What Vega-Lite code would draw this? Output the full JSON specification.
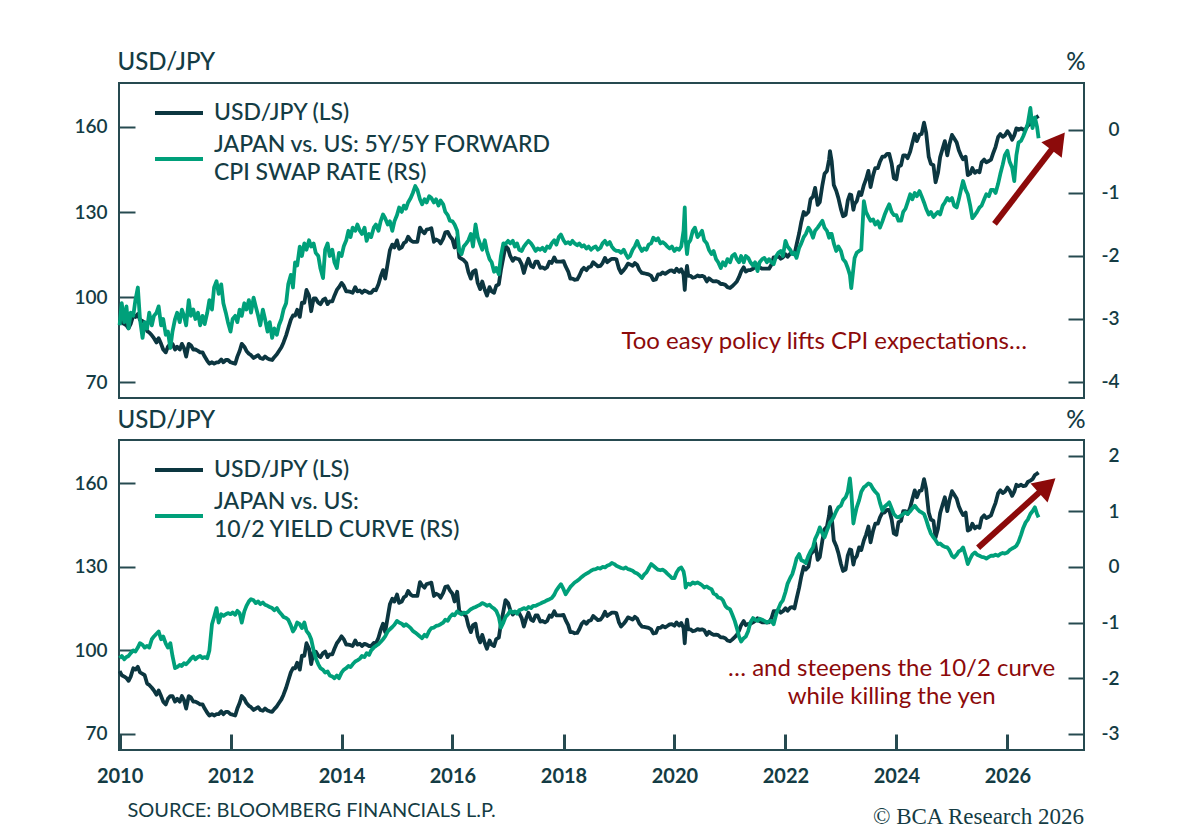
{
  "$schema": "https://vega.github.io/schema/vega-lite/v6.json",
  "background": "white",
  "padding": {"left": 72, "top": 49, "right": 10, "bottom": 0},
  "spacing": 42,
  "bounds": "flush",
  "title": {"text": "© BCA Research 2026", "orient": "bottom", "anchor": "end", "font": "Liberation Serif", "fontSize": 23, "fontWeight": "normal", "color": "#143c44", "offset": -15, "dx": -36},
  "datasets": {
    "ts": [
      {"d":"2010-01-01","u":92.5,"c":-3.1,"y":-1.64},{"d":"2010-01-15","u":91.0,"c":-2.75,"y":-1.6},{"d":"2010-02-01","u":90.5,"c":-3.05,"y":-1.66},{"d":"2010-02-15","u":90.0,"c":-2.8,"y":-1.62},
      {"d":"2010-03-01","u":89.0,"c":-3.15,"y":-1.6},{"d":"2010-03-15","u":90.5,"c":-2.9,"y":-1.55},{"d":"2010-04-01","u":93.5,"c":-2.95,"y":-1.5},{"d":"2010-04-15","u":93.0,"c":-2.7,"y":-1.52},
      {"d":"2010-05-01","u":94.0,"c":-2.5,"y":-1.45},{"d":"2010-05-15","u":92.0,"c":-3.0,"y":-1.37},{"d":"2010-06-01","u":91.5,"c":-3.3,"y":-1.4},{"d":"2010-06-15","u":91.0,"c":-3.05,"y":-1.45},
      {"d":"2010-07-01","u":88.0,"c":-3.15,"y":-1.42},{"d":"2010-07-15","u":87.5,"c":-2.9,"y":-1.45},{"d":"2010-08-01","u":86.5,"c":-3.1,"y":-1.3},{"d":"2010-08-15","u":85.5,"c":-2.95,"y":-1.25},
      {"d":"2010-09-01","u":84.0,"c":-2.9,"y":-1.2},{"d":"2010-09-15","u":85.5,"c":-2.8,"y":-1.16},{"d":"2010-10-01","u":83.5,"c":-3.1,"y":-1.3},{"d":"2010-10-15","u":81.5,"c":-3.0,"y":-1.25},
      {"d":"2010-11-01","u":80.5,"c":-3.25,"y":-1.38},{"d":"2010-11-15","u":82.5,"c":-3.2,"y":-1.45},{"d":"2010-12-01","u":83.5,"c":-3.46,"y":-1.37},{"d":"2010-12-15","u":83.5,"c":-3.2,"y":-1.6},
      {"d":"2011-01-01","u":81.5,"c":-3.0,"y":-1.82},{"d":"2011-01-15","u":82.5,"c":-2.9,"y":-1.8},{"d":"2011-02-01","u":81.5,"c":-3.05,"y":-1.76},{"d":"2011-02-15","u":83.5,"c":-2.85,"y":-1.78},
      {"d":"2011-03-01","u":82.0,"c":-2.95,"y":-1.73},{"d":"2011-03-15","u":79.0,"c":-3.1,"y":-1.75},{"d":"2011-04-01","u":83.5,"c":-2.7,"y":-1.7},{"d":"2011-04-15","u":83.0,"c":-2.95,"y":-1.65},
      {"d":"2011-05-01","u":81.5,"c":-2.85,"y":-1.61},{"d":"2011-05-15","u":81.5,"c":-3.0,"y":-1.66},{"d":"2011-06-01","u":81.0,"c":-2.9,"y":-1.62},{"d":"2011-06-15","u":80.5,"c":-3.1,"y":-1.6},
      {"d":"2011-07-01","u":80.5,"c":-2.95,"y":-1.64},{"d":"2011-07-15","u":79.0,"c":-3.08,"y":-1.62},{"d":"2011-08-01","u":77.5,"c":-2.9,"y":-1.64},{"d":"2011-08-15","u":76.5,"c":-2.7,"y":-1.5},
      {"d":"2011-09-01","u":77.0,"c":-2.85,"y":-1.03},{"d":"2011-09-15","u":76.5,"c":-2.5,"y":-0.9},{"d":"2011-10-01","u":77.0,"c":-2.4,"y":-0.74},{"d":"2011-10-15","u":77.0,"c":-2.6,"y":-1.0},
      {"d":"2011-11-01","u":78.0,"c":-2.45,"y":-0.85},{"d":"2011-11-15","u":77.0,"c":-2.75,"y":-0.88},{"d":"2011-12-01","u":77.8,"c":-2.9,"y":-0.85},{"d":"2011-12-15","u":77.8,"c":-3.05,"y":-0.83},
      {"d":"2012-01-01","u":77.0,"c":-3.2,"y":-0.85},{"d":"2012-01-15","u":76.8,"c":-3.0,"y":-0.82},{"d":"2012-02-01","u":76.5,"c":-2.95,"y":-0.86},{"d":"2012-02-15","u":79.0,"c":-3.05,"y":-0.79},
      {"d":"2012-03-01","u":81.0,"c":-2.85,"y":-0.83},{"d":"2012-03-15","u":83.5,"c":-2.95,"y":-1.0},{"d":"2012-04-01","u":82.5,"c":-2.75,"y":-0.8},{"d":"2012-04-15","u":81.0,"c":-2.85,"y":-0.7},
      {"d":"2012-05-01","u":80.0,"c":-2.7,"y":-0.62},{"d":"2012-05-15","u":79.5,"c":-2.9,"y":-0.58},{"d":"2012-06-01","u":78.5,"c":-2.66,"y":-0.6},{"d":"2012-06-15","u":79.0,"c":-2.8,"y":-0.65},
      {"d":"2012-07-01","u":79.5,"c":-2.95,"y":-0.62},{"d":"2012-07-15","u":78.5,"c":-3.1,"y":-0.67},{"d":"2012-08-01","u":78.2,"c":-2.85,"y":-0.64},{"d":"2012-08-15","u":79.0,"c":-3.0,"y":-0.68},
      {"d":"2012-09-01","u":78.3,"c":-3.2,"y":-0.7},{"d":"2012-09-15","u":78.0,"c":-3.05,"y":-0.72},{"d":"2012-10-01","u":77.8,"c":-3.3,"y":-0.74},{"d":"2012-10-15","u":78.8,"c":-3.15,"y":-0.78},
      {"d":"2012-11-01","u":79.8,"c":-3.25,"y":-0.74},{"d":"2012-11-15","u":81.0,"c":-3.1,"y":-0.8},{"d":"2012-12-01","u":82.3,"c":-3.0,"y":-0.85},{"d":"2012-12-15","u":84.0,"c":-2.85,"y":-0.9},
      {"d":"2013-01-01","u":86.5,"c":-2.75,"y":-0.92},{"d":"2013-01-15","u":89.0,"c":-2.45,"y":-0.95},{"d":"2013-02-01","u":92.0,"c":-2.3,"y":-1.05},{"d":"2013-02-15","u":93.5,"c":-2.5,"y":-1.16},
      {"d":"2013-03-01","u":93.5,"c":-2.1,"y":-1.1},{"d":"2013-03-15","u":95.5,"c":-2.15,"y":-1.0},{"d":"2013-04-01","u":93.0,"c":-1.85,"y":-1.03},{"d":"2013-04-15","u":98.0,"c":-2.0,"y":-1.1},
      {"d":"2013-05-01","u":98.0,"c":-1.8,"y":-1.0},{"d":"2013-05-15","u":102.5,"c":-1.9,"y":-1.15},{"d":"2013-06-01","u":100.5,"c":-1.75,"y":-1.21},{"d":"2013-06-15","u":95.0,"c":-1.85,"y":-1.3},
      {"d":"2013-07-01","u":99.5,"c":-1.8,"y":-1.5},{"d":"2013-07-15","u":99.5,"c":-1.95,"y":-1.64},{"d":"2013-08-01","u":98.0,"c":-2.0,"y":-1.75},{"d":"2013-08-15","u":97.5,"c":-2.2,"y":-1.82},
      {"d":"2013-09-01","u":99.0,"c":-2.35,"y":-1.85},{"d":"2013-09-15","u":99.5,"c":-1.9,"y":-1.9},{"d":"2013-10-01","u":97.5,"c":-1.8,"y":-1.88},{"d":"2013-10-15","u":98.5,"c":-2.0,"y":-1.95},
      {"d":"2013-11-01","u":98.5,"c":-1.9,"y":-1.97},{"d":"2013-11-15","u":100.5,"c":-2.1,"y":-2.0},{"d":"2013-12-01","u":102.5,"c":-2.19,"y":-1.95},{"d":"2013-12-15","u":103.5,"c":-1.95,"y":-2.0},
      {"d":"2014-01-01","u":105.0,"c":-2.0,"y":-1.9},{"d":"2014-01-15","u":104.0,"c":-1.85,"y":-1.85},{"d":"2014-02-01","u":102.0,"c":-1.75,"y":-1.82},{"d":"2014-02-15","u":102.0,"c":-1.6,"y":-1.78},
      {"d":"2014-03-01","u":101.8,"c":-1.7,"y":-1.8},{"d":"2014-03-15","u":101.5,"c":-1.55,"y":-1.75},{"d":"2014-04-01","u":103.5,"c":-1.6,"y":-1.7},{"d":"2014-04-15","u":102.0,"c":-1.5,"y":-1.68},
      {"d":"2014-05-01","u":102.3,"c":-1.6,"y":-1.65},{"d":"2014-05-15","u":101.5,"c":-1.65,"y":-1.6},{"d":"2014-06-01","u":102.3,"c":-1.55,"y":-1.62},{"d":"2014-06-15","u":102.0,"c":-1.76,"y":-1.55},
      {"d":"2014-07-01","u":101.5,"c":-1.65,"y":-1.58},{"d":"2014-07-15","u":101.5,"c":-1.7,"y":-1.5},{"d":"2014-08-01","u":102.6,"c":-1.55,"y":-1.45},{"d":"2014-08-15","u":102.4,"c":-1.5,"y":-1.42},
      {"d":"2014-09-01","u":104.5,"c":-1.6,"y":-1.39},{"d":"2014-09-15","u":107.2,"c":-1.45,"y":-1.35},{"d":"2014-10-01","u":109.5,"c":-1.34,"y":-1.3},{"d":"2014-10-15","u":106.5,"c":-1.4,"y":-1.25},
      {"d":"2014-11-01","u":112.0,"c":-1.5,"y":-1.16},{"d":"2014-11-15","u":116.5,"c":-1.45,"y":-1.12},{"d":"2014-12-01","u":118.5,"c":-1.6,"y":-1.08},{"d":"2014-12-15","u":117.5,"c":-1.45,"y":-1.04},
      {"d":"2015-01-01","u":120.0,"c":-1.35,"y":-0.97},{"d":"2015-01-15","u":117.0,"c":-1.23,"y":-1.0},{"d":"2015-02-01","u":117.5,"c":-1.3,"y":-1.02},{"d":"2015-02-15","u":119.0,"c":-1.2,"y":-1.06},
      {"d":"2015-03-01","u":119.5,"c":-1.25,"y":-1.03},{"d":"2015-03-15","u":121.3,"c":-1.15,"y":-1.06},{"d":"2015-04-01","u":120.0,"c":-1.08,"y":-1.1},{"d":"2015-04-15","u":119.5,"c":-1.0,"y":-1.15},
      {"d":"2015-05-01","u":119.5,"c":-0.89,"y":-1.18},{"d":"2015-05-15","u":119.5,"c":-0.95,"y":-1.21},{"d":"2015-06-01","u":124.5,"c":-1.1,"y":-1.25},{"d":"2015-06-15","u":123.3,"c":-1.18,"y":-1.28},
      {"d":"2015-07-01","u":122.5,"c":-1.1,"y":-1.22},{"d":"2015-07-15","u":123.8,"c":-1.15,"y":-1.25},{"d":"2015-08-01","u":124.0,"c":-1.05,"y":-1.15},{"d":"2015-08-15","u":124.3,"c":-1.08,"y":-1.1},
      {"d":"2015-09-01","u":119.5,"c":-1.15,"y":-1.09},{"d":"2015-09-15","u":120.3,"c":-1.1,"y":-1.06},{"d":"2015-10-01","u":119.9,"c":-1.2,"y":-1.05},{"d":"2015-10-15","u":118.9,"c":-1.12,"y":-1.03},
      {"d":"2015-11-01","u":120.6,"c":-1.18,"y":-1.0},{"d":"2015-11-15","u":122.8,"c":-1.3,"y":-0.95},{"d":"2015-12-01","u":123.0,"c":-1.35,"y":-0.97},{"d":"2015-12-15","u":121.5,"c":-1.44,"y":-0.9},
      {"d":"2016-01-01","u":120.3,"c":-1.45,"y":-0.85},{"d":"2016-01-15","u":117.5,"c":-1.5,"y":-0.87},{"d":"2016-02-01","u":121.0,"c":-1.6,"y":-0.8},{"d":"2016-02-15","u":114.0,"c":-1.92,"y":-0.83},
      {"d":"2016-03-01","u":113.5,"c":-1.97,"y":-0.85},{"d":"2016-03-15","u":113.0,"c":-1.85,"y":-0.82},{"d":"2016-04-01","u":112.0,"c":-1.8,"y":-0.83},{"d":"2016-04-15","u":108.8,"c":-1.75,"y":-0.8},
      {"d":"2016-05-01","u":106.5,"c":-1.65,"y":-0.76},{"d":"2016-05-15","u":109.0,"c":-1.85,"y":-0.74},{"d":"2016-06-01","u":109.5,"c":-1.5,"y":-0.72},{"d":"2016-06-15","u":105.0,"c":-1.7,"y":-0.7},
      {"d":"2016-07-01","u":102.8,"c":-1.81,"y":-0.68},{"d":"2016-07-15","u":105.5,"c":-1.9,"y":-0.65},{"d":"2016-08-01","u":102.5,"c":-1.75,"y":-0.67},{"d":"2016-08-15","u":100.5,"c":-1.92,"y":-0.7},
      {"d":"2016-09-01","u":103.5,"c":-2.05,"y":-0.68},{"d":"2016-09-15","u":102.0,"c":-2.1,"y":-0.72},{"d":"2016-10-01","u":101.5,"c":-2.25,"y":-0.75},{"d":"2016-10-15","u":104.0,"c":-2.19,"y":-0.79},
      {"d":"2016-11-01","u":104.5,"c":-2.29,"y":-0.9},{"d":"2016-11-15","u":109.5,"c":-2.0,"y":-1.09},{"d":"2016-12-01","u":114.0,"c":-1.8,"y":-1.0},{"d":"2016-12-15","u":118.0,"c":-1.81,"y":-0.9},
      {"d":"2017-01-01","u":117.0,"c":-1.76,"y":-0.85},{"d":"2017-01-15","u":114.5,"c":-1.8,"y":-0.79},{"d":"2017-02-01","u":112.8,"c":-1.76,"y":-0.82},{"d":"2017-02-15","u":113.8,"c":-1.85,"y":-0.8},
      {"d":"2017-03-01","u":113.5,"c":-1.8,"y":-0.84},{"d":"2017-03-15","u":113.3,"c":-1.9,"y":-0.78},{"d":"2017-04-01","u":111.5,"c":-1.92,"y":-0.76},{"d":"2017-04-15","u":108.5,"c":-1.85,"y":-0.74},
      {"d":"2017-05-01","u":111.5,"c":-1.8,"y":-0.76},{"d":"2017-05-15","u":113.5,"c":-1.76,"y":-0.72},{"d":"2017-06-01","u":111.0,"c":-1.8,"y":-0.74},{"d":"2017-06-15","u":110.5,"c":-1.85,"y":-0.7},
      {"d":"2017-07-01","u":112.5,"c":-1.92,"y":-0.7},{"d":"2017-07-15","u":112.5,"c":-1.88,"y":-0.68},{"d":"2017-08-01","u":110.3,"c":-1.9,"y":-0.66},{"d":"2017-08-15","u":110.5,"c":-1.87,"y":-0.64},
      {"d":"2017-09-01","u":110.0,"c":-1.92,"y":-0.62},{"d":"2017-09-15","u":110.5,"c":-1.85,"y":-0.6},{"d":"2017-10-01","u":112.5,"c":-1.87,"y":-0.58},{"d":"2017-10-15","u":112.0,"c":-1.8,"y":-0.56},
      {"d":"2017-11-01","u":114.0,"c":-1.75,"y":-0.5},{"d":"2017-11-15","u":112.5,"c":-1.82,"y":-0.42},{"d":"2017-12-01","u":112.5,"c":-1.7,"y":-0.36},{"d":"2017-12-15","u":112.5,"c":-1.66,"y":-0.31},
      {"d":"2018-01-01","u":112.7,"c":-1.75,"y":-0.4},{"d":"2018-01-15","u":110.8,"c":-1.8,"y":-0.49},{"d":"2018-02-01","u":109.0,"c":-1.78,"y":-0.42},{"d":"2018-02-15","u":106.5,"c":-1.81,"y":-0.36},
      {"d":"2018-03-01","u":106.5,"c":-1.76,"y":-0.32},{"d":"2018-03-15","u":106.1,"c":-1.8,"y":-0.28},{"d":"2018-04-01","u":106.2,"c":-1.83,"y":-0.25},{"d":"2018-04-15","u":107.5,"c":-1.8,"y":-0.22},
      {"d":"2018-05-01","u":109.5,"c":-1.85,"y":-0.18},{"d":"2018-05-15","u":110.3,"c":-1.83,"y":-0.15},{"d":"2018-06-01","u":109.5,"c":-1.88,"y":-0.12},{"d":"2018-06-15","u":110.5,"c":-1.85,"y":-0.1},
      {"d":"2018-07-01","u":110.8,"c":-1.9,"y":-0.07},{"d":"2018-07-15","u":112.3,"c":-1.87,"y":-0.05},{"d":"2018-08-01","u":111.5,"c":-1.85,"y":-0.04},{"d":"2018-08-15","u":110.8,"c":-1.9,"y":-0.02},
      {"d":"2018-09-01","u":111.0,"c":-1.87,"y":-0.03},{"d":"2018-09-15","u":112.0,"c":-1.8,"y":0.0},{"d":"2018-10-01","u":113.8,"c":-1.76,"y":-0.01},{"d":"2018-10-15","u":112.3,"c":-1.82,"y":0.02},
      {"d":"2018-11-01","u":113.0,"c":-1.78,"y":0.04},{"d":"2018-11-15","u":113.5,"c":-1.85,"y":0.07},{"d":"2018-12-01","u":113.5,"c":-1.9,"y":0.05},{"d":"2018-12-15","u":113.3,"c":-1.92,"y":0.02},
      {"d":"2019-01-01","u":110.0,"c":-1.92,"y":0.0},{"d":"2019-01-15","u":108.5,"c":-1.95,"y":-0.02},{"d":"2019-02-01","u":109.5,"c":-1.9,"y":-0.03},{"d":"2019-02-15","u":110.5,"c":-1.97,"y":-0.01},
      {"d":"2019-03-01","u":111.8,"c":-2.03,"y":-0.04},{"d":"2019-03-15","u":111.5,"c":-2.0,"y":-0.05},{"d":"2019-04-01","u":111.0,"c":-1.9,"y":-0.07},{"d":"2019-04-15","u":112.0,"c":-1.85,"y":-0.1},
      {"d":"2019-05-01","u":111.3,"c":-1.76,"y":-0.12},{"d":"2019-05-15","u":109.6,"c":-1.85,"y":-0.15},{"d":"2019-06-01","u":108.5,"c":-1.92,"y":-0.2},{"d":"2019-06-15","u":108.4,"c":-1.88,"y":-0.14},
      {"d":"2019-07-01","u":108.2,"c":-1.9,"y":-0.1},{"d":"2019-07-15","u":108.0,"c":-1.82,"y":-0.03},{"d":"2019-08-01","u":107.5,"c":-1.8,"y":0.05},{"d":"2019-08-15","u":106.0,"c":-1.71,"y":0.02},
      {"d":"2019-09-01","u":106.2,"c":-1.75,"y":-0.02},{"d":"2019-09-15","u":108.0,"c":-1.72,"y":-0.05},{"d":"2019-10-01","u":108.0,"c":-1.8,"y":-0.06},{"d":"2019-10-15","u":108.7,"c":-1.78,"y":-0.05},
      {"d":"2019-11-01","u":108.2,"c":-1.81,"y":-0.08},{"d":"2019-11-15","u":108.7,"c":-1.85,"y":-0.12},{"d":"2019-12-01","u":109.3,"c":-1.88,"y":-0.16},{"d":"2019-12-15","u":109.4,"c":-1.85,"y":-0.2},
      {"d":"2020-01-01","u":108.8,"c":-1.92,"y":-0.2},{"d":"2020-01-15","u":110.0,"c":-1.88,"y":-0.1},{"d":"2020-02-01","u":108.9,"c":-1.9,"y":-0.03},{"d":"2020-02-15","u":109.8,"c":-1.85,"y":-0.01},
      {"d":"2020-03-01","u":108.0,"c":-1.6,"y":-0.08},{"d":"2020-03-09","u":102.5,"c":-1.23,"y":-0.2},{"d":"2020-03-15","u":107.5,"c":-1.75,"y":-0.37},{"d":"2020-03-24","u":111.0,"c":-1.97,"y":-0.32},
      {"d":"2020-04-01","u":107.5,"c":-1.8,"y":-0.3},{"d":"2020-04-15","u":107.5,"c":-1.75,"y":-0.32},{"d":"2020-05-01","u":106.8,"c":-1.6,"y":-0.28},{"d":"2020-05-15","u":107.0,"c":-1.55,"y":-0.3},
      {"d":"2020-06-01","u":107.6,"c":-1.7,"y":-0.28},{"d":"2020-06-15","u":107.3,"c":-1.66,"y":-0.3},{"d":"2020-07-01","u":107.5,"c":-1.6,"y":-0.33},{"d":"2020-07-15","u":107.2,"c":-1.75,"y":-0.37},
      {"d":"2020-08-01","u":105.5,"c":-1.8,"y":-0.35},{"d":"2020-08-15","u":106.6,"c":-1.9,"y":-0.38},{"d":"2020-09-01","u":105.9,"c":-1.97,"y":-0.4},{"d":"2020-09-15","u":105.5,"c":-1.92,"y":-0.48},
      {"d":"2020-10-01","u":105.6,"c":-2.05,"y":-0.5},{"d":"2020-10-15","u":105.4,"c":-2.1,"y":-0.55},{"d":"2020-11-01","u":104.6,"c":-2.19,"y":-0.56},{"d":"2020-11-15","u":104.6,"c":-2.1,"y":-0.6},
      {"d":"2020-12-01","u":104.3,"c":-2.15,"y":-0.7},{"d":"2020-12-15","u":103.5,"c":-2.05,"y":-0.74},
      {"d":"2021-01-01","u":103.2,"c":-2.1,"y":-0.76},{"d":"2021-01-15","u":103.8,"c":-2.0,"y":-0.85},{"d":"2021-02-01","u":104.7,"c":-1.97,"y":-0.97},{"d":"2021-02-15","u":105.5,"c":-2.05,"y":-1.1},
      {"d":"2021-03-01","u":107.0,"c":-2.1,"y":-1.25},{"d":"2021-03-15","u":109.0,"c":-2.0,"y":-1.34},{"d":"2021-04-01","u":110.5,"c":-2.1,"y":-1.28},{"d":"2021-04-15","u":109.0,"c":-2.0,"y":-1.25},
      {"d":"2021-05-01","u":109.5,"c":-2.03,"y":-1.15},{"d":"2021-05-15","u":109.5,"c":-2.1,"y":-1.0},{"d":"2021-06-01","u":110.0,"c":-2.15,"y":-0.92},{"d":"2021-06-15","u":110.5,"c":-2.1,"y":-0.95},
      {"d":"2021-07-01","u":111.5,"c":-2.24,"y":-0.97},{"d":"2021-07-15","u":110.5,"c":-2.1,"y":-0.93},{"d":"2021-08-01","u":110.0,"c":-2.05,"y":-0.95},{"d":"2021-08-15","u":110.0,"c":-2.03,"y":-0.97},
      {"d":"2021-09-01","u":110.0,"c":-2.1,"y":-1.0},{"d":"2021-09-15","u":110.0,"c":-2.05,"y":-0.98},{"d":"2021-10-01","u":111.5,"c":-2.1,"y":-0.97},{"d":"2021-10-15","u":114.0,"c":-2.13,"y":-1.03},
      {"d":"2021-11-01","u":114.0,"c":-2.0,"y":-0.85},{"d":"2021-11-15","u":114.5,"c":-1.95,"y":-0.75},{"d":"2021-12-01","u":113.5,"c":-1.92,"y":-0.65},{"d":"2021-12-15","u":114.0,"c":-2.0,"y":-0.6},
      {"d":"2022-01-01","u":115.1,"c":-1.76,"y":-0.45},{"d":"2022-01-15","u":114.2,"c":-1.85,"y":-0.3},{"d":"2022-02-01","u":115.3,"c":-1.9,"y":-0.2},{"d":"2022-02-15","u":115.5,"c":-1.97,"y":-0.13},
      {"d":"2022-03-01","u":115.0,"c":-1.95,"y":0.0},{"d":"2022-03-15","u":118.5,"c":-2.03,"y":0.15},{"d":"2022-04-01","u":122.5,"c":-1.87,"y":0.23},{"d":"2022-04-15","u":126.5,"c":-1.8,"y":0.12},
      {"d":"2022-05-01","u":130.0,"c":-1.7,"y":0.1},{"d":"2022-05-15","u":129.0,"c":-1.65,"y":0.07},{"d":"2022-06-01","u":130.0,"c":-1.55,"y":0.2},{"d":"2022-06-15","u":134.5,"c":-1.6,"y":0.28},
      {"d":"2022-07-01","u":135.5,"c":-1.71,"y":0.35},{"d":"2022-07-15","u":138.5,"c":-1.6,"y":0.5},{"d":"2022-08-01","u":132.5,"c":-1.55,"y":0.6},{"d":"2022-08-15","u":133.5,"c":-1.5,"y":0.71},
      {"d":"2022-09-01","u":139.5,"c":-1.44,"y":0.6},{"d":"2022-09-15","u":143.5,"c":-1.55,"y":0.53},{"d":"2022-10-01","u":144.5,"c":-1.6,"y":0.65},{"d":"2022-10-15","u":148.5,"c":-1.71,"y":0.75},
      {"d":"2022-10-21","u":151.5,"c":-1.65,"y":0.8},{"d":"2022-11-01","u":148.0,"c":-1.65,"y":0.83},{"d":"2022-11-15","u":139.5,"c":-1.8,"y":0.9},{"d":"2022-12-01","u":137.5,"c":-1.92,"y":1.0},
      {"d":"2022-12-15","u":135.0,"c":-1.85,"y":1.07},
      {"d":"2023-01-01","u":131.0,"c":-1.92,"y":1.1},{"d":"2023-01-15","u":128.5,"c":-2.05,"y":1.2},{"d":"2023-02-01","u":129.0,"c":-2.1,"y":1.25},{"d":"2023-02-15","u":134.0,"c":-2.19,"y":1.35},
      {"d":"2023-03-01","u":136.2,"c":-2.3,"y":1.59},{"d":"2023-03-10","u":136.0,"c":-2.51,"y":1.35},{"d":"2023-03-24","u":130.8,"c":-2.2,"y":0.78},{"d":"2023-04-01","u":132.8,"c":-2.03,"y":0.9},
      {"d":"2023-04-15","u":133.8,"c":-1.95,"y":1.07},{"d":"2023-05-01","u":137.0,"c":-1.92,"y":1.2},{"d":"2023-05-15","u":136.0,"c":-1.9,"y":1.35},{"d":"2023-06-01","u":139.5,"c":-1.13,"y":1.43},
      {"d":"2023-06-15","u":141.5,"c":-1.3,"y":1.46},{"d":"2023-07-01","u":144.5,"c":-1.38,"y":1.5},{"d":"2023-07-15","u":138.8,"c":-1.44,"y":1.48},{"d":"2023-08-01","u":143.0,"c":-1.42,"y":1.4},
      {"d":"2023-08-15","u":145.5,"c":-1.5,"y":1.35},{"d":"2023-09-01","u":145.5,"c":-1.45,"y":1.3},{"d":"2023-09-15","u":147.8,"c":-1.55,"y":1.15},{"d":"2023-10-01","u":149.5,"c":-1.45,"y":1.01},
      {"d":"2023-10-15","u":149.5,"c":-1.35,"y":1.08},{"d":"2023-11-01","u":150.5,"c":-1.25,"y":1.12},{"d":"2023-11-15","u":150.5,"c":-1.18,"y":1.16},{"d":"2023-12-01","u":147.0,"c":-1.3,"y":1.05},
      {"d":"2023-12-15","u":142.0,"c":-1.35,"y":0.95},
      {"d":"2024-01-01","u":141.5,"c":-1.35,"y":0.9},{"d":"2024-01-15","u":146.0,"c":-1.44,"y":0.89},{"d":"2024-02-01","u":146.5,"c":-1.44,"y":0.92},{"d":"2024-02-15","u":150.0,"c":-1.3,"y":0.95},
      {"d":"2024-03-01","u":150.0,"c":-1.25,"y":0.98},{"d":"2024-03-15","u":149.0,"c":-1.15,"y":0.95},{"d":"2024-04-01","u":151.3,"c":-1.02,"y":1.0},{"d":"2024-04-15","u":154.3,"c":-1.1,"y":1.05},
      {"d":"2024-05-01","u":157.5,"c":-1.0,"y":1.1},{"d":"2024-05-15","u":155.0,"c":-1.05,"y":1.05},{"d":"2024-06-01","u":157.3,"c":-0.97,"y":1.0},{"d":"2024-06-15","u":157.5,"c":-1.05,"y":0.98},
      {"d":"2024-07-01","u":161.5,"c":-1.15,"y":0.95},{"d":"2024-07-15","u":158.0,"c":-1.25,"y":0.85},{"d":"2024-08-01","u":149.5,"c":-1.34,"y":0.7},{"d":"2024-08-15","u":147.0,"c":-1.3,"y":0.6},
      {"d":"2024-09-01","u":146.5,"c":-1.38,"y":0.53},{"d":"2024-09-15","u":140.5,"c":-1.34,"y":0.48},{"d":"2024-10-01","u":143.8,"c":-1.3,"y":0.41},{"d":"2024-10-15","u":149.3,"c":-1.34,"y":0.42},
      {"d":"2024-11-01","u":152.5,"c":-1.2,"y":0.38},{"d":"2024-11-15","u":155.0,"c":-1.15,"y":0.36},{"d":"2024-12-01","u":150.0,"c":-1.08,"y":0.35},{"d":"2024-12-15","u":153.8,"c":-1.12,"y":0.3},
      {"d":"2025-01-01","u":157.2,"c":-1.08,"y":0.2},{"d":"2025-01-15","u":156.0,"c":-1.2,"y":0.17},{"d":"2025-02-01","u":154.5,"c":-1.23,"y":0.22},{"d":"2025-02-15","u":151.8,"c":-1.1,"y":0.28},
      {"d":"2025-03-01","u":150.0,"c":-0.95,"y":0.3},{"d":"2025-03-15","u":148.6,"c":-0.81,"y":0.35},{"d":"2025-04-01","u":149.5,"c":-0.95,"y":0.2},{"d":"2025-04-15","u":143.0,"c":-1.02,"y":0.05},
      {"d":"2025-05-01","u":143.5,"c":-1.2,"y":0.15},{"d":"2025-05-15","u":145.5,"c":-1.4,"y":0.22},{"d":"2025-06-01","u":143.8,"c":-1.35,"y":0.26},{"d":"2025-06-15","u":144.5,"c":-1.3,"y":0.22},
      {"d":"2025-07-01","u":144.0,"c":-1.23,"y":0.2},{"d":"2025-07-15","u":147.5,"c":-1.2,"y":0.18},{"d":"2025-08-01","u":148.5,"c":-1.1,"y":0.17},{"d":"2025-08-15","u":147.5,"c":-1.02,"y":0.15},
      {"d":"2025-09-01","u":148.0,"c":-1.05,"y":0.18},{"d":"2025-09-15","u":148.5,"c":-0.95,"y":0.2},{"d":"2025-10-01","u":151.0,"c":-0.95,"y":0.2},{"d":"2025-10-15","u":153.0,"c":-1.0,"y":0.22},
      {"d":"2025-11-01","u":156.5,"c":-0.85,"y":0.2},{"d":"2025-11-15","u":157.5,"c":-0.7,"y":0.23},{"d":"2025-12-01","u":156.5,"c":-0.55,"y":0.25},{"d":"2025-12-15","u":157.0,"c":-0.4,"y":0.24},
      {"d":"2026-01-01","u":158.5,"c":-0.33,"y":0.26},{"d":"2026-01-15","u":157.5,"c":-0.5,"y":0.3},{"d":"2026-02-01","u":155.5,"c":-0.6,"y":0.33},{"d":"2026-02-15","u":157.0,"c":-0.81,"y":0.35},
      {"d":"2026-03-01","u":159.5,"c":-0.4,"y":0.38},{"d":"2026-03-15","u":159.0,"c":-0.2,"y":0.45},{"d":"2026-04-01","u":159.5,"c":-0.17,"y":0.58},{"d":"2026-04-15","u":159.0,"c":-0.1,"y":0.7},
      {"d":"2026-05-01","u":159.2,"c":0.0,"y":0.8},{"d":"2026-05-15","u":160.5,"c":0.1,"y":0.85},{"d":"2026-06-01","u":161.0,"c":0.35,"y":0.95},{"d":"2026-06-15","u":161.5,"c":0.03,"y":1.0},
      {"d":"2026-07-01","u":163.0,"c":0.2,"y":1.07},{"d":"2026-07-15","u":163.5,"c":0.05,"y":0.95},{"d":"2026-07-25","u":163.9,"c":-0.13,"y":0.89}
    ]
  },
  "vconcat": [
    {
      "width": 965,
      "height": 315,
      "layer": [
        {
          "data": {"name": "ts"},
          "mark": {"type": "line", "strokeWidth": 3.8, "strokeJoin": "round"},
          "encoding": {
            "x": {"field": "d", "type": "temporal", "scale": {"domain": [{"year": 2009, "month": 12, "date": 28}, {"year": 2027, "month": 5, "date": 20}]}, "axis": null},
            "y": {"field": "u", "type": "quantitative", "scale": {"domain": [64.4, 175.5], "nice": false, "zero": false},
              "axis": {"orient": "left", "values": [70, 100, 130, 160], "tickSize": -16, "labelPadding": 28, "title": "USD/JPY", "titleAngle": 0, "titleAlign": "left", "titleBaseline": "middle", "titleX": -2, "titleY": -21}},
            "color": {"datum": "USD/JPY (LS)", "type": "nominal",
              "scale": {"domain": ["USD/JPY (LS)", "JAPAN vs. US: 5Y/5Y FORWARD|CPI SWAP RATE (RS)"], "range": ["#0c3640", "#00a07a"]},
              "legend": {"orient": "none", "legendX": 34, "legendY": 4, "title": null, "padding": 0, "symbolType": "stroke", "symbolStrokeWidth": 4, "symbolSize": 2304, "labelOffset": 9, "labelLimit": 0, "rowPadding": 8, "labelExpr": "split(datum.label, '|')",
                "encoding": {"labels": {"lineHeight": {"value": 28}, "dy": {"condition": {"test": "datum.index == 1", "value": -14}, "value": 0}}}}}
          }
        },
        {
          "data": {"name": "ts"},
          "mark": {"type": "line", "strokeWidth": 3.8, "strokeJoin": "round"},
          "encoding": {
            "x": {"field": "d", "type": "temporal", "axis": null},
            "y": {"field": "c", "type": "quantitative", "scale": {"domain": [-4.254, 0.746], "nice": false, "zero": false},
              "axis": {"orient": "right", "values": [-4, -3, -2, -1, 0], "tickSize": -16, "labelPadding": 51, "labelAlign": "right", "labelExpr": "toString(datum.value)", "title": "%", "titleAngle": 0, "titleAlign": "right", "titleBaseline": "middle", "titleX": 1, "titleY": -21}},
            "color": {"datum": "JAPAN vs. US: 5Y/5Y FORWARD|CPI SWAP RATE (RS)", "type": "nominal"}
          }
        },
        {
          "data": {"values": [{}]},
          "mark": {"type": "text", "font": "Lato", "fontSize": 24, "color": "#8c0a0a", "align": "center", "baseline": "middle"},
          "encoding": {
            "text": {"value": "Too easy policy lifts CPI expectations…"},
            "x": {"datum": {"year": 2022, "month": 9, "date": 13}, "type": "temporal", "axis": null},
            "y": {"datum": 84.0, "type": "quantitative", "scale": {"domain": [64.4, 175.5], "nice": false, "zero": false}, "axis": null}
          }
        },
        {
          "data": {"values": [{}]},
          "mark": {"type": "rule", "color": "#8c0a0a", "strokeWidth": 6},
          "encoding": {
            "x": {"datum": {"year": 2025, "month": 10, "date": 8}, "type": "temporal", "axis": null},
            "x2": {"datum": {"year": 2026, "month": 11, "date": 17}},
            "y": {"datum": -1.49, "type": "quantitative", "scale": {"domain": [-4.254, 0.746], "nice": false, "zero": false}, "axis": null},
            "y2": {"datum": -0.22}
          }
        },
        {
          "data": {"values": [{}]},
          "mark": {"type": "point", "shape": "triangle-up", "filled": true, "size": 650, "angle": 37, "color": "#8c0a0a", "opacity": 1},
          "encoding": {
            "x": {"datum": {"year": 2026, "month": 12, "date": 1}, "type": "temporal", "axis": null},
            "y": {"datum": -0.178, "type": "quantitative", "scale": {"domain": [-4.254, 0.746], "nice": false, "zero": false}, "axis": null}
          }
        }
      ],
      "resolve": {"scale": {"y": "independent"}}
    },
    {
      "width": 965,
      "height": 310,
      "layer": [
        {
          "data": {"name": "ts"},
          "mark": {"type": "line", "strokeWidth": 3.8, "strokeJoin": "round"},
          "encoding": {
            "x": {"field": "d", "type": "temporal", "scale": {"domain": [{"year": 2009, "month": 12, "date": 28}, {"year": 2027, "month": 5, "date": 20}]},
              "axis": {"values": [{"year": 2010}, {"year": 2012}, {"year": 2014}, {"year": 2016}, {"year": 2018}, {"year": 2020}, {"year": 2022}, {"year": 2024}, {"year": 2026}], "format": "%Y", "labelFlush": false, "labelOverlap": false, "tickSize": -16, "tickWidth": 3, "labelPadding": 32, "labelFontSize": 20, "labelFontWeight": "bold",
                "title": "SOURCE: BLOOMBERG FINANCIALS L.P.", "titleAlign": "left", "titleBaseline": "middle", "titleX": 8, "titleY": 60, "titleFontSize": 20, "titleFontWeight": "normal"}},
            "y": {"field": "u", "type": "quantitative", "scale": {"domain": [64.1, 175.6], "nice": false, "zero": false},
              "axis": {"orient": "left", "values": [70, 100, 130, 160], "tickSize": -16, "labelPadding": 28, "title": "USD/JPY", "titleAngle": 0, "titleAlign": "left", "titleBaseline": "middle", "titleX": -2, "titleY": -20}},
            "color": {"datum": "USD/JPY (LS)", "type": "nominal",
              "scale": {"domain": ["USD/JPY (LS)", "JAPAN vs. US:|10/2 YIELD CURVE (RS)"], "range": ["#0c3640", "#00a07a"]},
              "legend": {"orient": "none", "legendX": 34, "legendY": 4, "title": null, "padding": 0, "symbolType": "stroke", "symbolStrokeWidth": 4, "symbolSize": 2304, "labelOffset": 9, "labelLimit": 0, "rowPadding": 8, "labelExpr": "split(datum.label, '|')",
                "encoding": {"labels": {"lineHeight": {"value": 28}, "dy": {"condition": {"test": "datum.index == 1", "value": -14}, "value": 0}}}}}
          }
        },
        {
          "data": {"name": "ts"},
          "mark": {"type": "line", "strokeWidth": 3.8, "strokeJoin": "round"},
          "encoding": {
            "x": {"field": "d", "type": "temporal"},
            "y": {"field": "y", "type": "quantitative", "scale": {"domain": [-3.29, 2.28], "nice": false, "zero": false},
              "axis": {"orient": "right", "values": [-3, -2, -1, 0, 1, 2], "tickSize": -16, "labelPadding": 51, "labelAlign": "right", "labelExpr": "toString(datum.value)", "title": "%", "titleAngle": 0, "titleAlign": "right", "titleBaseline": "middle", "titleX": 1, "titleY": -20}},
            "color": {"datum": "JAPAN vs. US:|10/2 YIELD CURVE (RS)", "type": "nominal"}
          }
        },
        {
          "data": {"values": [{}]},
          "mark": {"type": "text", "font": "Lato", "fontSize": 24, "color": "#8c0a0a", "align": "center", "baseline": "middle", "lineHeight": 28},
          "encoding": {
            "text": {"value": ["… and steepens the 10/2 curve", "while killing the yen"]},
            "x": {"datum": {"year": 2023, "month": 12, "date": 1}, "type": "temporal"},
            "y": {"datum": 93.3, "type": "quantitative", "scale": {"domain": [64.1, 175.6], "nice": false, "zero": false}, "axis": null}
          }
        },
        {
          "data": {"values": [{}]},
          "mark": {"type": "rule", "color": "#8c0a0a", "strokeWidth": 6},
          "encoding": {
            "x": {"datum": {"year": 2025, "month": 6, "date": 22}, "type": "temporal"},
            "x2": {"datum": {"year": 2026, "month": 9, "date": 5}},
            "y": {"datum": 0.343, "type": "quantitative", "scale": {"domain": [-3.29, 2.28], "nice": false, "zero": false}, "axis": null},
            "y2": {"datum": 1.43}
          }
        },
        {
          "data": {"values": [{}]},
          "mark": {"type": "point", "shape": "triangle-up", "filled": true, "size": 650, "angle": 48, "color": "#8c0a0a", "opacity": 1},
          "encoding": {
            "x": {"datum": {"year": 2026, "month": 9, "date": 20}, "type": "temporal"},
            "y": {"datum": 1.46, "type": "quantitative", "scale": {"domain": [-3.29, 2.28], "nice": false, "zero": false}, "axis": null}
          }
        }
      ],
      "resolve": {"scale": {"y": "independent"}}
    }
  ],
  "resolve": {"scale": {"color": "independent", "x": "independent"}},
  "config": {
    "font": "Lato",
    "view": {"stroke": "#264a50", "strokeWidth": 2},
    "axis": {"domain": false, "grid": false, "ticks": true, "tickColor": "#264a50", "tickWidth": 2, "labelFont": "Lato", "labelFontSize": 19, "labelFontWeight": 600, "labelColor": "#143c44", "titleFont": "Lato", "titleFontSize": 24, "titleFontWeight": 500, "titleColor": "#143c44"},
    "legend": {"labelFont": "Lato", "labelFontSize": 23, "labelFontWeight": 500, "labelColor": "#143c44"}
  }
}
